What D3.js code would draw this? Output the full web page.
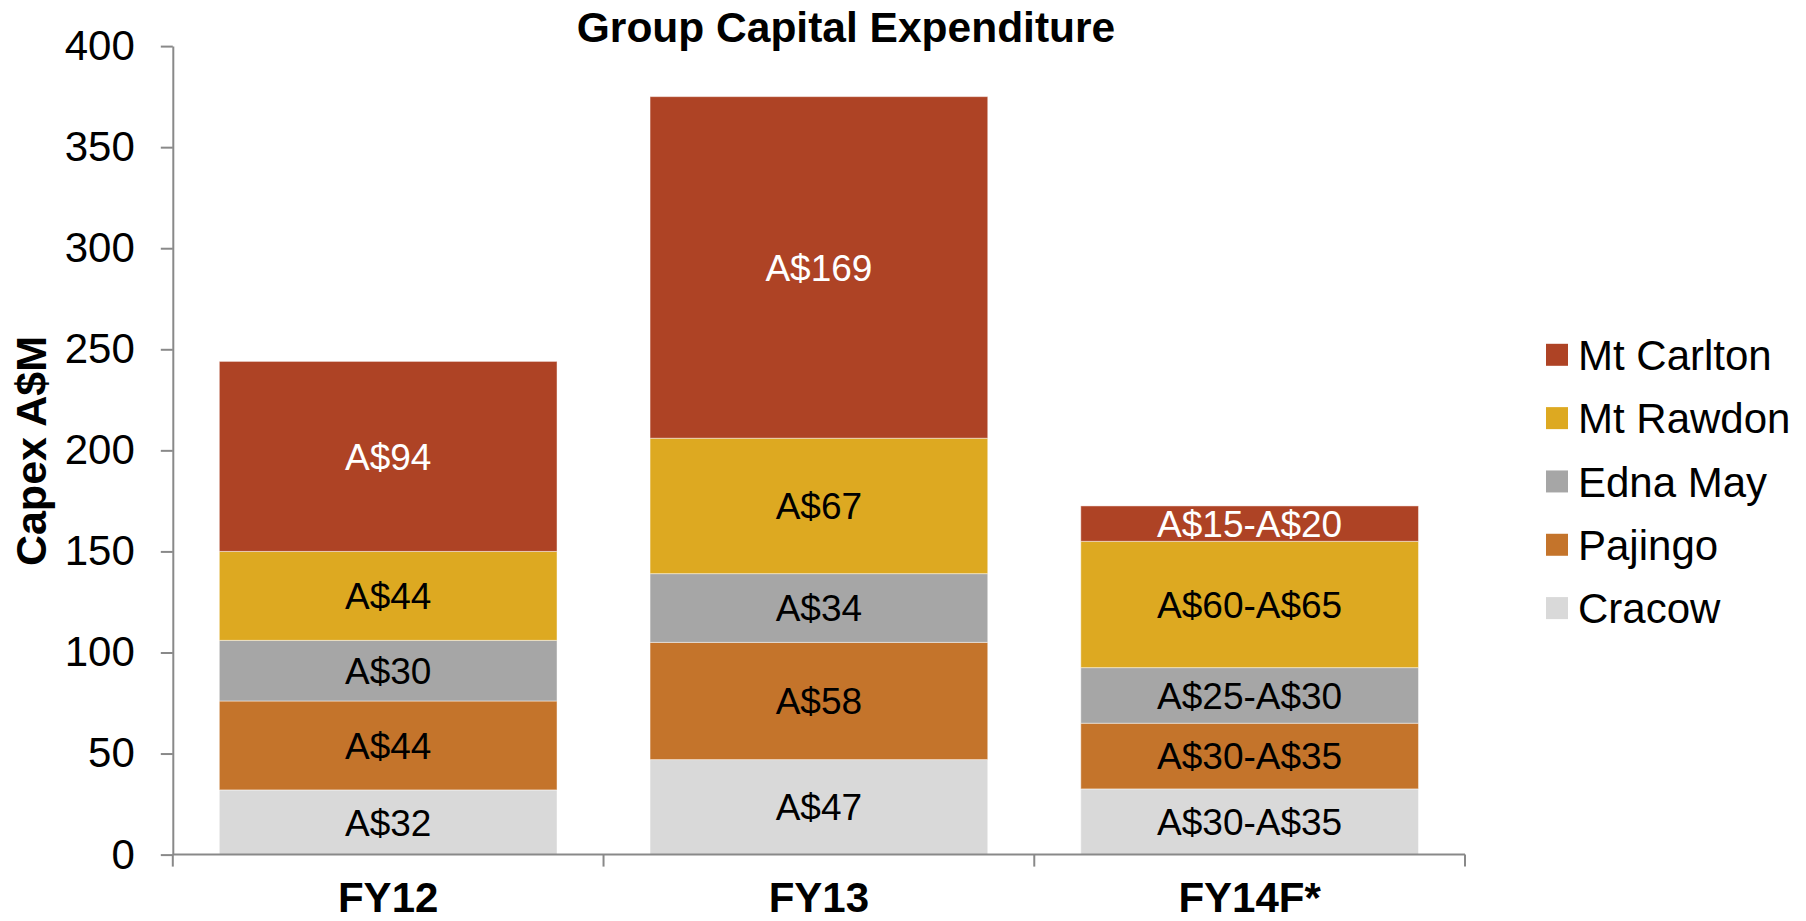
<!DOCTYPE html>
<html><head><meta charset="utf-8">
<script src="https://cdn.jsdelivr.net/npm/d3@7"></script>
<style>
html,body{margin:0;padding:0;background:#fff;}
svg{display:block;font-family:"Liberation Sans",Arial,sans-serif;}
</style></head>
<body>
<svg id="chart" width="1806" height="921"></svg>
<script>
const categories = ["FY12", "FY13", "FY14F*"];
const seriesNames = ["Cracow", "Pajingo", "Edna May", "Mt Rawdon", "Mt Carlton"];
const seriesColors = ["#D9D9D9", "#C4742B", "#A6A6A6", "#DDA921", "#AE4325"];
const cracow    = [32, 47, 32.5];
const pajingo   = [44, 58, 32.5];
const ednaMay   = [30, 34, 27.5];
const mtRawdon  = [44, 67, 62.5];
const mtCarlton = [94, 169, 17.5];
const cracowLabels    = ["A$32", "A$47", "A$30-A$35"];
const pajingoLabels   = ["A$44", "A$58", "A$30-A$35"];
const ednaMayLabels   = ["A$30", "A$34", "A$25-A$30"];
const mtRawdonLabels  = ["A$44", "A$67", "A$60-A$65"];
const mtCarltonLabels = ["A$94", "A$169", "A$15-A$20"];
const yTicks = [0, 50, 100, 150, 200, 250, 300, 350, 400];
const legendOrder = ["Mt Carlton", "Mt Rawdon", "Edna May", "Pajingo", "Cracow"];

(function () {
const values = [cracow, pajingo, ednaMay, mtRawdon, mtCarlton];
const labels = [cracowLabels, pajingoLabels, ednaMayLabels, mtRawdonLabels, mtCarltonLabels];
const labelColors = ["#000", "#000", "#000", "#000", "#fff"];

const rows = categories.map((c, i) => {
  const r = {cat: c};
  seriesNames.forEach((s, j) => r[s] = values[j][i]);
  return r;
});
const stack = d3.stack().keys(seriesNames)(rows);

const svg = d3.select("#chart");
const pLeft = 172.8, pRight = 1465, pTop = 46.1, pBottom = 854.6;

const x = d3.scaleBand().domain(categories).range([pLeft, pRight]).paddingInner(0.216).paddingOuter(0.108);
const xAxisBand = d3.scaleBand().domain(categories).range([pLeft, pRight]).padding(0);
const y = d3.scaleLinear().domain([0, 400]).range([pBottom, pTop]);

// bars
stack.forEach((layer, j) => {
  const g = svg.append("g");
  g.selectAll("rect").data(layer).enter().append("rect")
    .attr("x", (d, i) => x(categories[i]))
    .attr("width", x.bandwidth())
    .attr("y", d => y(d[1]))
    .attr("height", d => y(d[0]) - y(d[1]))
    .attr("fill", seriesColors[j])
    .attr("stroke", "rgba(255,255,255,0.45)")
    .attr("stroke-width", 1);
  g.selectAll("text").data(layer).enter().append("text")
    .attr("x", (d, i) => x(categories[i]) + x.bandwidth() / 2)
    .attr("y", d => (y(d[0]) + y(d[1])) / 2)
    .attr("dy", "0.36em")
    .attr("text-anchor", "middle")
    .attr("font-size", 37)
    .attr("fill", labelColors[j])
    .text((d, i) => labels[j][i]);
});

// y axis
const yAxis = d3.axisLeft(y).tickValues(yTicks).tickSize(12).tickPadding(26).tickSizeOuter(0);
const ya = svg.append("g").attr("transform", `translate(${pLeft},0)`).call(yAxis);
ya.selectAll("path,line").attr("stroke", "#898989").attr("stroke-width", 2);
ya.selectAll("text").attr("font-size", 42).attr("fill", "#000").attr("font-family", "Liberation Sans, Arial, sans-serif");

// x axis
const xa = svg.append("g").attr("transform", `translate(0,${pBottom})`);
xa.append("line").attr("x1", pLeft).attr("x2", pRight).attr("y1", 0).attr("y2", 0)
  .attr("stroke", "#898989").attr("stroke-width", 2);
const bounds = categories.map(c => xAxisBand(c)).concat([xAxisBand(categories[categories.length - 1]) + xAxisBand.bandwidth()]);
xa.selectAll("line.tk").data(bounds).enter().append("line").attr("class", "tk")
  .attr("x1", d => d).attr("x2", d => d).attr("y1", 0).attr("y2", 12)
  .attr("stroke", "#898989").attr("stroke-width", 2);
xa.selectAll("text").data(categories).enter().append("text")
  .attr("x", d => xAxisBand(d) + xAxisBand.bandwidth() / 2)
  .attr("y", 57)
  .attr("text-anchor", "middle")
  .attr("font-size", 42)
  .attr("font-weight", "bold")
  .text(d => d);

// y axis title
svg.append("text")
  .attr("transform", `translate(46,451) rotate(-90)`)
  .attr("text-anchor", "middle")
  .attr("font-size", 43)
  .attr("font-weight", "bold")
  .text("Capex A$M");

// title
svg.append("text")
  .attr("x", 846).attr("y", 42)
  .attr("text-anchor", "middle")
  .attr("font-size", 42.5)
  .attr("font-weight", "bold")
  .text("Group Capital Expenditure");

// legend
const legY = d3.scalePoint().domain(legendOrder).range([354.8, 608.1]);
const leg = svg.append("g");
legendOrder.forEach(name => {
  const j = seriesNames.indexOf(name);
  leg.append("rect").attr("x", 1546).attr("y", legY(name) - 11).attr("width", 22).attr("height", 22)
    .attr("fill", seriesColors[j]);
  leg.append("text").attr("x", 1578).attr("y", legY(name)).attr("dy", "0.36em")
    .attr("font-size", 42).text(name);
});
})();
</script>
</body></html>
